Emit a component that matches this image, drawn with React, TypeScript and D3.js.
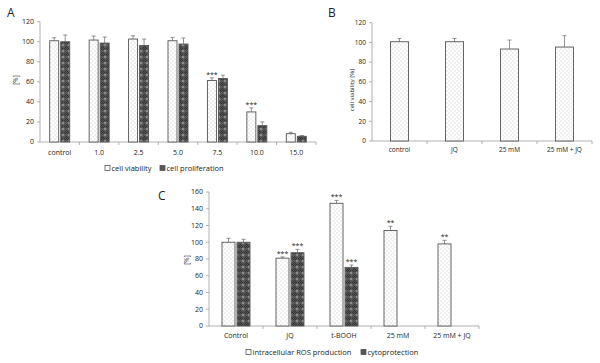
import * as d3 from "d3";

// panel A
const catsA = ["control", "1.0", "2.5", "5.0", "7.5", "10.0", "15.0"];
const viabilityA = [101, 101.7, 102.7, 101, 61.3, 30, 8.3];
const viabilityErrA = [3, 4, 3.3, 3.3, 2.7, 4, 1.4];
const prolifA = [100, 98.7, 96.3, 97.7, 63.3, 16.3, 5.7];
const prolifErrA = [6.7, 6, 6.4, 6, 3.4, 3.7, 0.8];
const starsViabA = ["", "", "", "", "***", "***", ""];

// panel B
const catsB = ["control", "JQ", "25 mM", "25 mM + JQ"];
const viabilityB = [100.7, 100.7, 93.3, 95.3];
const viabilityErrB = [3.3, 3.3, 9.1, 11.5];

// panel C
const catsC = ["Control", "JQ", "t-BOOH", "25 mM", "25 mM + JQ"];
const rosC = [100, 81, 146.5, 114, 98];
const rosErrC = [4.7, 1.5, 3.5, 5, 4.3];
const cytoC: (number | null)[] = [100, 87.5, 70, null, null];
const cytoErrC: (number | null)[] = [3.5, 4, 2.8, null, null];
const starsRosC = ["", "***", "***", "**", "**"];
const starsCytoC = ["", "***", "***", "", ""];

const FONT = "'Open Sans', sans-serif";
const AXIS = "#a0a0a0";
const EDGE = "#555";
const ERR = "#777";

type Series = {
  values: (number | null)[];
  errs: (number | null)[];
  stars?: string[];
  fill: string;
};

type PanelProps = {
  cats: string[];
  xr: [number, number];
  yr: [number, number];
  max: number;
  step: number;
  barW: number;
  gap: number;
  series: Series[];
  labelY: number;
  yTitle: string;
  yTitleX: number;
  yTitleY: number;
  tickSize: number;
};

function Panel(p: PanelProps) {
  const x = d3.scaleBand<string>().domain(p.cats).range(p.xr);
  const y = d3.scaleLinear().domain([0, p.max]).range(p.yr);
  const ticks = d3.range(0, p.max + 1, p.step);
  const n = p.series.length;
  const groupW = n * p.barW + (n - 1) * p.gap;
  const bx = (c: string, i: number) =>
    (x(c) as number) + x.bandwidth() / 2 - groupW / 2 + i * (p.barW + p.gap);

  return (
    <g>
      {/* y axis */}
      <line x1={p.xr[0]} x2={p.xr[0]} y1={y(0)} y2={y(p.max)} stroke={AXIS} strokeWidth={0.8} />
      {ticks.map((t) => (
        <g key={t}>
          <line x1={p.xr[0] - 3} x2={p.xr[0]} y1={y(t)} y2={y(t)} stroke={AXIS} strokeWidth={0.8} />
          <text x={p.xr[0] - 6} y={y(t)} dy="0.35em" textAnchor="end" fontSize={p.tickSize} fill="#222" fontFamily={FONT}>
            {t}
          </text>
        </g>
      ))}
      {/* x axis */}
      <line x1={p.xr[0]} x2={p.xr[1]} y1={y(0)} y2={y(0)} stroke={AXIS} strokeWidth={0.8} />
      {p.cats.map((c) => (
        <g key={c}>
          <line
            x1={(x(c) as number) + x.bandwidth()}
            x2={(x(c) as number) + x.bandwidth()}
            y1={y(0)}
            y2={y(0) + 3}
            stroke={AXIS}
            strokeWidth={0.8}
          />
          <text
            x={(x(c) as number) + x.bandwidth() / 2}
            y={p.labelY}
            dy="0.35em"
            textAnchor="middle"
            fontSize={p.tickSize}
            fill="#222"
            fontFamily={FONT}
          >
            {c}
          </text>
        </g>
      ))}
      {/* bars */}
      {p.series.map((s, si) =>
        p.cats.map((c, i) => {
          const v = s.values[i];
          if (v == null) return null;
          const e = s.errs[i] ?? 0;
          const left = bx(c, si);
          const mid = left + p.barW / 2;
          const star = s.stars ? s.stars[i] : "";
          return (
            <g key={c + si}>
              <line x1={mid} x2={mid} y1={y(v)} y2={y(v + e)} stroke={ERR} strokeWidth={0.8} />
              <line x1={mid - 2} x2={mid + 2} y1={y(v + e)} y2={y(v + e)} stroke={ERR} strokeWidth={0.8} />
              <rect x={left} y={y(v)} width={p.barW} height={y(0) - y(v)} fill={s.fill} stroke={EDGE} strokeWidth={0.9} />
              {star && (
                <text x={mid} y={y(v + e) - 1} textAnchor="middle" fontSize={7} fill="#222" fontFamily={FONT}>
                  {star}
                </text>
              )}
            </g>
          );
        })
      )}
      <text
        transform={`translate(${p.yTitleX},${p.yTitleY}) rotate(-90)`}
        textAnchor="middle"
        dy="0.35em"
        fontSize={p.tickSize - 0.5}
        fill="#222"
        fontFamily={FONT}
      >
        {p.yTitle}
      </text>
    </g>
  );
}

function Legend({ x, y, items }: { x: number[]; y: number; items: { label: string; fill: string }[] }) {
  return (
    <g>
      {items.map((it, i) => (
        <g key={it.label}>
          <rect x={x[i]} y={y - 2.5} width={5} height={5} fill={it.fill} stroke={EDGE} strokeWidth={0.8} />
          <text x={x[i] + 6.5} y={y} dy="0.35em" fontSize={7.5} fill="#222" fontFamily={FONT}>
            {it.label}
          </text>
        </g>
      ))}
    </g>
  );
}

export default function App() {
  const light = "url(#dots)";
  const dark = "url(#dark)";
  return (
    <svg width={600} height={363} style={{ position: "absolute", left: 0, top: 0, background: "#fff" }}>
      <defs>
        <pattern id="dots" width={4} height={4} patternUnits="userSpaceOnUse">
          <rect width={4} height={4} fill="#fff" />
          <rect x={0.5} y={0.5} width={1} height={1} fill="#c4c4c4" />
          <rect x={2.5} y={2.5} width={1} height={1} fill="#c4c4c4" />
        </pattern>
        <pattern id="dark" width={6} height={6} patternUnits="userSpaceOnUse">
          <rect width={6} height={6} fill="#555" />
          <rect x={0} y={0} width={1} height={1} fill="#333" />
          <rect x={2} y={0} width={1} height={1} fill="#333" />
          <rect x={4} y={0} width={1} height={1} fill="#333" />
          <rect x={1} y={1} width={1} height={1} fill="#333" />
          <rect x={5} y={1} width={1} height={1} fill="#333" />
          <rect x={0} y={4} width={1} height={1} fill="#333" />
          <rect x={1} y={5} width={1} height={1} fill="#333" />
          <rect x={5} y={5} width={1} height={1} fill="#333" />
          <circle cx={3} cy={3} r={1.3} fill="#8c8c8c" />
        </pattern>
      </defs>

      <text x={7} y={17} fontSize={12} fill="#222" fontFamily={FONT}>A</text>
      <Panel
        cats={catsA}
        xr={[40, 316]}
        yr={[142, 21.7]}
        max={120}
        step={20}
        barW={9}
        gap={2}
        labelY={153}
        yTitle="[%]"
        yTitleX={16}
        yTitleY={80}
        tickSize={7}
        series={[
          { values: viabilityA, errs: viabilityErrA, stars: starsViabA, fill: light },
          { values: prolifA, errs: prolifErrA, fill: dark },
        ]}
      />
      <Legend
        x={[105, 160]}
        y={168}
        items={[
          { label: "cell viability", fill: "#fff" },
          { label: "cell proliferation", fill: "#555" },
        ]}
      />

      <text x={328} y={17} fontSize={12} fill="#222" fontFamily={FONT}>B</text>
      <Panel
        cats={catsB}
        xr={[372, 592]}
        yr={[141, 22.7]}
        max={120}
        step={20}
        barW={18}
        gap={0}
        labelY={150}
        yTitle="cell viability [%]"
        yTitleX={352}
        yTitleY={90}
        tickSize={6.5}
        series={[{ values: viabilityB, errs: viabilityErrB, fill: light }]}
      />

      <text x={158} y={200} fontSize={12} fill="#222" fontFamily={FONT}>C</text>
      <Panel
        cats={catsC}
        xr={[209, 479]}
        yr={[326, 192]}
        max={160}
        step={20}
        barW={13}
        gap={2}
        labelY={336}
        yTitle="[%]"
        yTitleX={187}
        yTitleY={260}
        tickSize={7}
        series={[
          { values: rosC, errs: rosErrC, stars: starsRosC, fill: light },
          { values: cytoC, errs: cytoErrC, stars: starsCytoC, fill: dark },
        ]}
      />
      <Legend
        x={[246, 361]}
        y={352}
        items={[
          { label: "intracellular ROS production", fill: "#fff" },
          { label: "cytoprotection", fill: "#555" },
        ]}
      />
    </svg>
  );
}
